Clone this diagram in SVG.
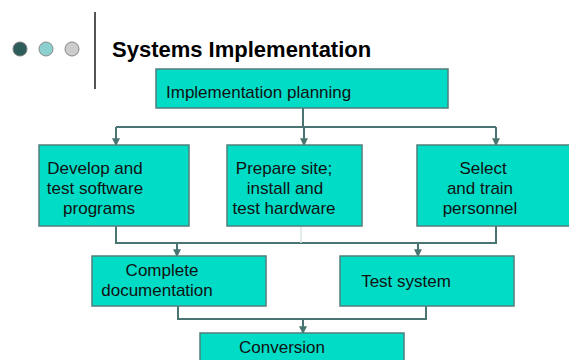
<svg xmlns="http://www.w3.org/2000/svg" width="569" height="360" viewBox="0 0 569 360">
<defs>
<style>
.box{fill:#00dcc6;stroke:#4f7f7c;stroke-width:1.5}
.t{font-family:"Liberation Sans",Arial,sans-serif;font-size:17px;fill:#111}
.c{fill:none;stroke:#4a7472;stroke-width:2}
</style>
<marker id="ah" viewBox="0 0 6 6" refX="5" refY="3" markerWidth="4" markerHeight="4" orient="auto">
<path d="M0,0 L6,3 L0,6 Z" fill="#4a7472"/>
</marker>
</defs>
<rect width="569" height="360" fill="#fff"/>
<g id="header">
<circle cx="20" cy="49" r="7" fill="#2d5d5b" stroke="#777" stroke-width="1"/>
<circle cx="46" cy="49" r="7" fill="#8ccfcf" stroke="#888" stroke-width="1"/>
<circle cx="72" cy="49" r="7" fill="#cccccc" stroke="#888" stroke-width="1"/>
<line x1="95" y1="12" x2="95" y2="89" stroke="#555" stroke-width="2"/>
<text x="112" y="57" font-family="'Liberation Sans',Arial,sans-serif" font-size="22" font-weight="bold" fill="#000">Systems Implementation</text>
</g>
<g id="connectors">
<path class="c" d="M303,108 V127 M116,127 H496"/>
<path class="c" d="M116,127 V145" marker-end="url(#ah)"/>
<path class="c" d="M304,127 V145" marker-end="url(#ah)"/>
<path class="c" d="M496,127 V145" marker-end="url(#ah)"/>
<path class="c" d="M116,226 V243 H496 V226"/>
<line x1="301" y1="226" x2="301" y2="243" stroke="#d8e6e6" stroke-width="1.5"/>
<path class="c" d="M177,243 V256" marker-end="url(#ah)"/>
<path class="c" d="M418,243 V256" marker-end="url(#ah)"/>
<path class="c" d="M178,306 V319 H426 V306"/>
<path class="c" d="M303,319 V333" marker-end="url(#ah)"/>
</g>
<g id="n-planning">
<rect class="box" x="156" y="69" width="292" height="39"/>
<text class="t" x="166" y="98">Implementation planning</text>
</g>
<g id="n-develop">
<rect class="box" x="39" y="145" width="150" height="81"/>
<text class="t" text-anchor="middle"><tspan x="95" y="174">Develop and</tspan><tspan x="95" y="194">test software</tspan><tspan x="99" y="214">programs</tspan></text>
</g>
<g id="n-prepare">
<rect class="box" x="227" y="145" width="135" height="81"/>
<text class="t" text-anchor="middle"><tspan x="284" y="174">Prepare site;</tspan><tspan x="285" y="194">install and</tspan><tspan x="284" y="214">test hardware</tspan></text>
</g>
<g id="n-select">
<rect class="box" x="417" y="145" width="155" height="81"/>
<text class="t" text-anchor="middle"><tspan x="483" y="174">Select</tspan><tspan x="480" y="194">and train</tspan><tspan x="480" y="214">personnel</tspan></text>
</g>
<g id="n-doc">
<rect class="box" x="92" y="256" width="174" height="50"/>
<text class="t" text-anchor="middle"><tspan x="162" y="276">Complete</tspan><tspan x="157" y="296">documentation</tspan></text>
</g>
<g id="n-test">
<rect class="box" x="340" y="256" width="174" height="50"/>
<text class="t" text-anchor="middle" x="406" y="287">Test system</text>
</g>
<g id="n-conversion">
<rect class="box" x="200" y="333" width="204" height="32"/>
<text class="t" text-anchor="middle" x="282" y="353">Conversion</text>
</g>
</svg>
